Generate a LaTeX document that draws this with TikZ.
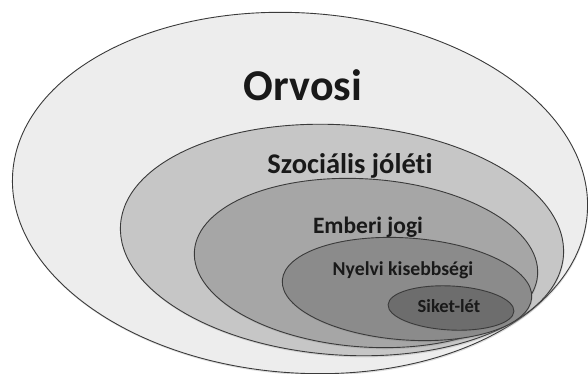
\documentclass[tikz,border=0pt]{standalone}
\usepackage{fontspec}
\setmainfont{Carlito}[RawFeature={-liga;-calt;-clig}]
\usetikzlibrary{shapes.geometric, shadows}

\definecolor{ringA}{HTML}{EDEDED}
\definecolor{ringB}{HTML}{C6C6C6}
\definecolor{ringC}{HTML}{A6A6A6}
\definecolor{ringD}{HTML}{8B8B8B}
\definecolor{ringE}{HTML}{6D6D6D}
\definecolor{ringline}{HTML}{3A3A3A}

\tikzset{
  ring/.style={ellipse, draw=ringline, line width=0.9pt, inner sep=0pt,
    drop shadow={opacity=0.25, shadow xshift=0.6pt, shadow yshift=-1.6pt}},
  lbl/.style={anchor=base, text=black!90, font=\bfseries}
}

\begin{document}
\begin{tikzpicture}[x=1pt, y=-1pt]
\useasboundingbox (0,0) rectangle (588,374);
% the nested fields, outermost first
\node[ring, fill=ringA, minimum width=576pt, minimum height=360pt, rotate=-4] (orvosi) at (300,193) {};
\node[ring, fill=ringB, minimum width=444pt, minimum height=230pt, rotate=-4] (szocialis) at (342,240) {};
\node[ring, fill=ringC, minimum width=344pt, minimum height=168pt, rotate=-4] (emberi) at (366,263) {};
\node[ring, fill=ringD, minimum width=250pt, minimum height=102pt, rotate=-4] (nyelvi) at (407,289) {};
\node[ring, fill=ringE, minimum width=126pt, minimum height=44pt, rotate=-3] (siket) at (451,308) {};
% labels
\node[lbl, font=\bfseries\fontsize{44}{48}\selectfont] (orvosiT) at (303,101) {Orvosi};
\node[lbl, font=\bfseries\fontsize{28.5}{32}\selectfont] (szocialisT) at (350,173) {Szociális jóléti};
\node[lbl, font=\bfseries\fontsize{23.5}{26}\selectfont] (emberiT) at (368,233) {Emberi jogi};
\node[lbl, font=\bfseries\fontsize{19.7}{22}\selectfont] (nyelviT) at (403,275) {Nyelvi kisebbségi};
\node[lbl, font=\bfseries\fontsize{18.5}{21}\selectfont] (siketT) at (449,312) {Siket-lét};
\end{tikzpicture}
\end{document}
